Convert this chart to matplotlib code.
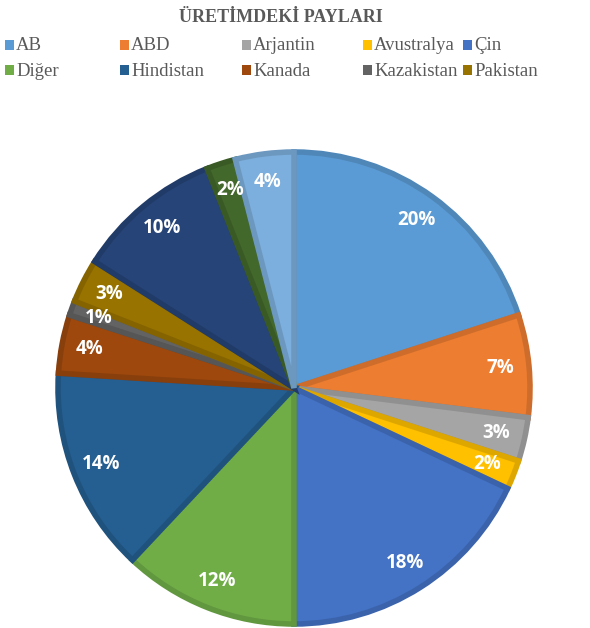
import matplotlib.pyplot as plt
import matplotlib.colors as mcolors
from matplotlib.patches import Rectangle

# shares of production, clockwise from the top
labels = ["AB", "ABD", "Arjantin", "Avustralya", "Çin", "Diğer", "Hindistan",
          "Kanada", "Kazakistan", "Pakistan", "", "", ""]
shares = [20, 7, 3, 2, 18, 12, 14, 4, 1, 3, 10, 2, 4]
colors = ["#5B9BD5", "#ED7D31", "#A5A5A5", "#FFC000", "#4472C4", "#70AD47",
          "#255E91", "#9E480E", "#636363", "#997300", "#264478", "#43682B",
          "#7CAFDD"]
legend_names = labels[:10]

W, H = 590, 628
fig = plt.figure(figsize=(W / 100, H / 100), dpi=100)

# pie centre (294, 388) px, radius 236 px
cx, cy, r = 294, 388, 236
pad = 1.05
ax = fig.add_axes([(cx - r * pad) / W, (H - cy - r * pad) / H,
                   2 * r * pad / W, 2 * r * pad / H])

def darker(c, f=0.87):
    rgb = mcolors.to_rgb(c)
    return tuple(v * f for v in rgb)

wedges, texts, autotexts = ax.pie(
    shares, colors=colors, startangle=90, counterclock=False,
    autopct="%1.0f%%", pctdistance=0.88,
    wedgeprops=dict(linewidth=4, joinstyle="miter"),
    textprops=dict(color="white", fontsize=13.5, fontweight="bold",
                   family="Open Sans"))
for w, c in zip(wedges, colors):
    w.set_edgecolor(darker(c))
ax.set_xlim(-pad, pad)
ax.set_ylim(-pad, pad)
ax.set_aspect("equal")
ax.axis("off")

# title
fig.text(281 / W, 1 - 17 / H, "ÜRETİMDEKİ PAYLARI", ha="center", va="center",
         family="Liberation Serif", fontweight="bold", fontsize=13,
         color="#595959")

# legend, 2 rows x 5 columns
col_x = [5, 120, 242, 363, 463]
row_y = [45, 70]
for i, name in enumerate(legend_names):
    x = col_x[i % 5]
    y = row_y[i // 5]
    fig.patches.append(Rectangle((x / W, 1 - (y + 4.5) / H), 9 / W, 9 / H,
                                 transform=fig.transFigure,
                                 facecolor=colors[i], edgecolor="none"))
    fig.text((x + 11) / W, 1 - (y + 1) / H, name, ha="left", va="center",
             family="Liberation Serif", fontsize=13.5, color="#595959")

fig.savefig("out.png", dpi=100)
